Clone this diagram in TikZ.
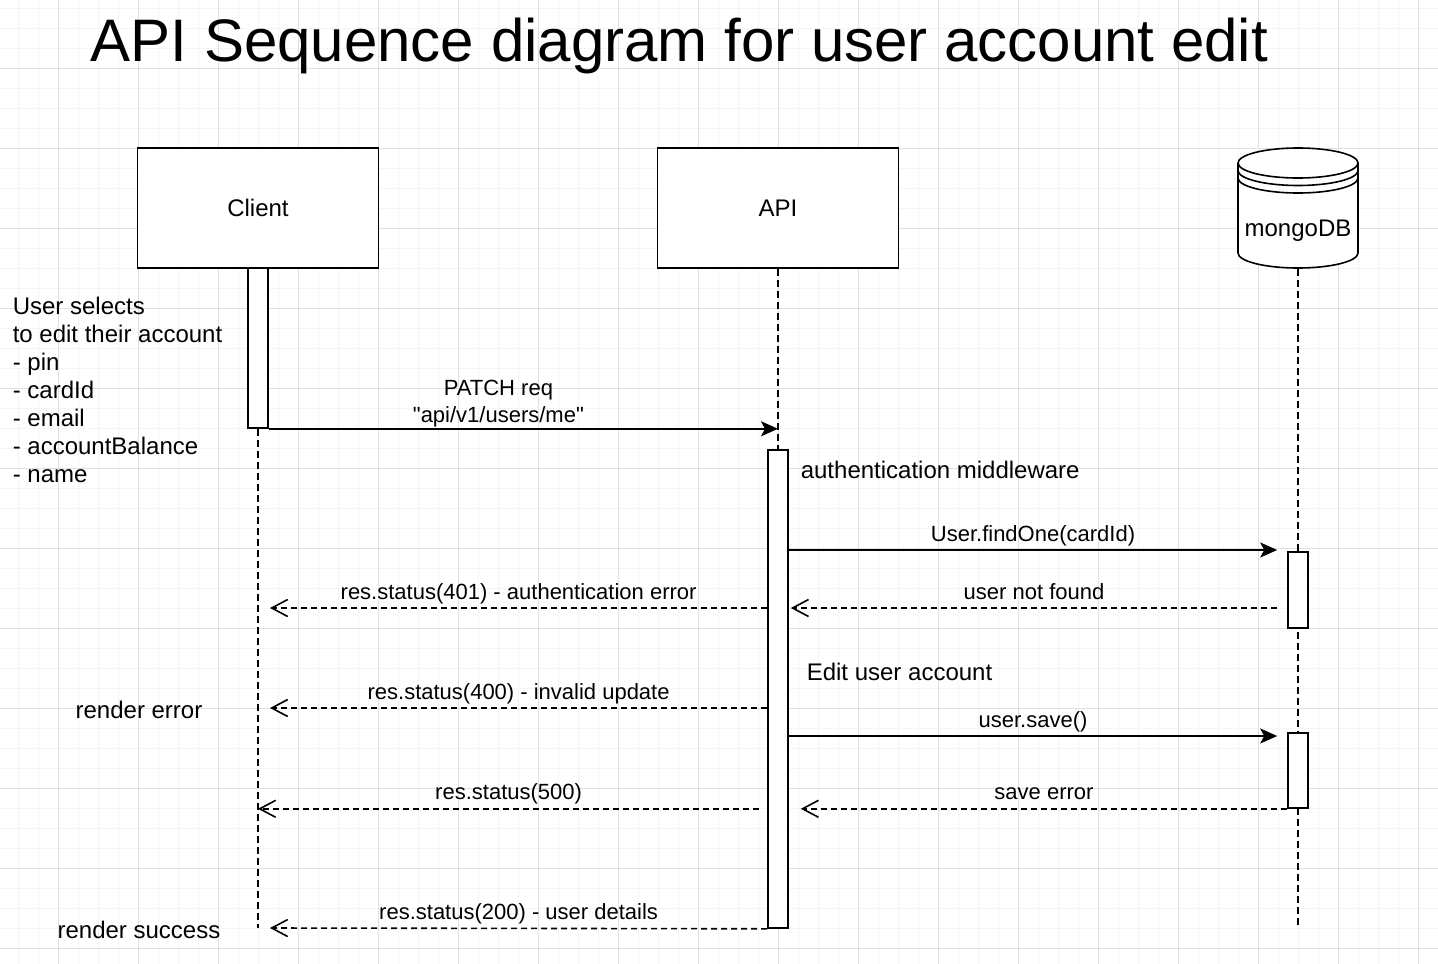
\documentclass[tikz,border=0pt]{standalone}
\usepackage{fontspec}
\setmainfont{Liberation Sans}[Ligatures=TeXOff]
\usetikzlibrary{arrows.meta}

\begin{document}
\begin{tikzpicture}[x=1pt,y=-1pt,line width=1.6pt]%
  \tikzstyle{gridminor}=[draw=black!4,line width=1pt]
  \tikzstyle{gridmajor}=[draw=black!12,line width=1pt]
  \tikzstyle{actor}=[rectangle,draw,fill=white,minimum width=241pt,minimum height=120pt,font=\fontsize{24}{28}\selectfont]
  \tikzstyle{actbar}=[rectangle,draw,fill=white,minimum width=20pt,inner sep=0]
  \tikzstyle{lifeline}=[dash pattern=on 7pt off 4pt]
  \tikzstyle{msg}=[-{Stealth[length=17pt,width=15pt,inset=4pt]}]
  \tikzstyle{ret}=[dash pattern=on 6pt off 4pt,-{Straight Barb[length=16pt,width=17pt]}]
  \tikzstyle{msglabel}=[anchor=base,inner sep=0,yshift=9pt,font=\fontsize{22}{26}\selectfont]
  \tikzstyle{note}=[inner sep=0,font=\fontsize{24}{28}\selectfont]
  % background and grid
  \fill[white] (0,0) rectangle (1438,964);
  \useasboundingbox (0,0) rectangle (1438,964);
  \foreach \gx in {18,38,...,1438} \draw[gridminor] (\gx,0) -- (\gx,964);
  \foreach \gy in {8,28,...,948} \draw[gridminor] (0,\gy) -- (1438,\gy);
  \foreach \gx in {58,138,...,1418} \draw[gridmajor] (\gx,0) -- (\gx,964);
  \foreach \gy in {68,148,...,948} \draw[gridmajor] (0,\gy) -- (1438,\gy);
  % title
  \node(title)[anchor=base west,inner sep=0,font=\fontsize{60}{72}\selectfont] at (90,61)
    {API Sequence diagram for user account edit};
  % participants
  \node(client)[actor] at (258,208) {Client};
  \node(api)[actor] at (778,208) {API};
  \node(mongo)[minimum width=120pt,minimum height=120pt,inner sep=0] at (1298,208) {};
  \draw[fill=white] (1238,163) -- (1238,253) arc[start angle=180,end angle=0,x radius=60,y radius=15]
    -- (1358,163) arc[start angle=0,end angle=-180,x radius=60,y radius=15] -- cycle;
  \draw (1238,163) arc[start angle=180,end angle=0,x radius=60,y radius=15];
  \draw (1238,170.5) arc[start angle=180,end angle=0,x radius=60,y radius=15];
  \draw (1238,178) arc[start angle=180,end angle=0,x radius=60,y radius=15];
  \node(mongotext)[note] at (1298,231) {mongoDB};
  % lifelines
  \coordinate(clientend) at (258,928);
  \coordinate(mongoend) at (1298,928);
  \node(clientbar)[actbar,minimum height=160pt] at (258,348) {};
  \node(apibar)[actbar,minimum height=478pt] at (778,689) {};
  \draw[lifeline] (clientbar.south) -- (clientend);
  \draw[lifeline] (api.south) -- (apibar.north);
  \draw[lifeline] (mongo.south) -- (mongoend);
  \node(findbar)[actbar,minimum height=76pt] at (1298,590) {};
  \node(savebar)[actbar,minimum height=75pt] at (1298,770.5) {};
  % time stamps
  \coordinate(tfind) at (0,550);
  \coordinate(tauth) at (0,608);
  \coordinate(tinvalid) at (0,708);
  \coordinate(tsave) at (0,736);
  % messages
  \draw[msg] (clientbar.south east) -- (clientbar.south east -| api.south)
    node[midway,anchor=south,inner sep=0,yshift=1pt,xshift=-25pt,align=center,font=\fontsize{22}{27}\selectfont]
    {PATCH req\\"api/v1/users/me"};
  \draw[msg] (apibar.east |- tfind) -- ([xshift=-10pt]findbar.west |- tfind)
    node[msglabel,midway] {User.findOne(cardId)};
  \draw[ret] ([xshift=-10pt]findbar.west |- tauth) -- ([xshift=2pt]apibar.east |- tauth)
    node[msglabel,midway] {user not found};
  \draw[ret] (apibar.west |- tauth) -- ([xshift=12pt]clientend |- tauth)
    node[msglabel,midway] {res.status(401) - authentication error};
  \draw[ret] (apibar.west |- tinvalid) -- ([xshift=12pt]clientend |- tinvalid)
    node[msglabel,midway] {res.status(400) - invalid update};
  \draw[msg] (apibar.east |- tsave) -- ([xshift=-10pt]savebar.west |- tsave)
    node[msglabel,midway] {user.save()};
  \draw[ret] (savebar.south west) -- ([xshift=12pt]apibar.east |- savebar.south)
    node[msglabel,midway] {save error};
  \draw[ret] ([xshift=-8pt]apibar.west |- savebar.south) -- (clientend |- savebar.south)
    node[msglabel,midway] {res.status(500)};
  \draw[ret] (apibar.south west) -- ([xshift=12pt]clientend)
    node[msglabel,midway] {res.status(200) - user details};
  % notes
  \node(selects)[note,anchor=north west,align=left] at (12,296)
    {User selects\\to edit their account\\- pin\\- cardId\\- email\\- accountBalance\\- name};
  \node(authmw)[note,anchor=west] at (800,470) {authentication middleware};
  \node(editacc)[note,anchor=west] at (806,672) {Edit user account};
  \node(renderr)[note] at (139,710) {render error};
  \node(rendok)[note] at (139,930) {render success};
\end{tikzpicture}
\end{document}
